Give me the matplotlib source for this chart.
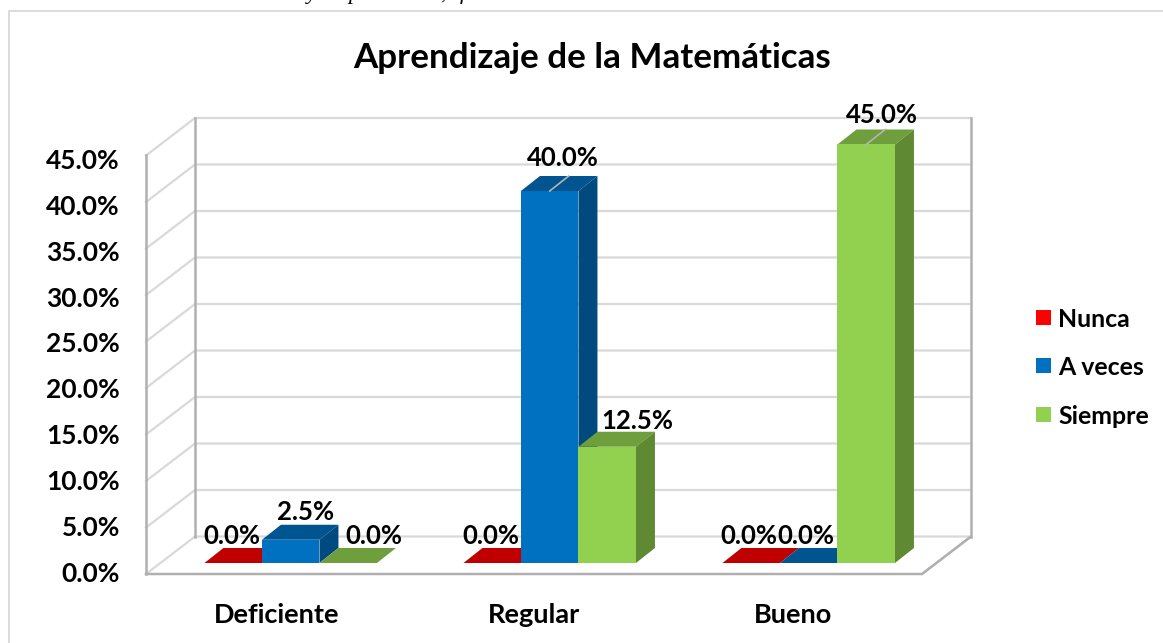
import matplotlib
matplotlib.use("Agg")
import matplotlib.pyplot as plt
from matplotlib.patches import Polygon, Rectangle

categories = ["Deficiente", "Regular", "Bueno"]
series_names = ["Nunca", "A veces", "Siempre"]
nunca = [0.0, 0.0, 0.0]
a_veces = [2.5, 40.0, 0.0]
siempre = [0.0, 12.5, 45.0]
y_ticks = [0, 5, 10, 15, 20, 25, 30, 35, 40, 45]
title = "Aprendizaje de la Matemáticas"
cut_text = ["y", "p", ",", "f"]

# label layout: horizontal shift and gap above the bar's front top edge, in pixels
label_shift = [[-1, 15, 26], [-1, 13, 30], [-2, -3, 16]]
label_gap = [[27, 28, 27], [27, 33, 26], [27, 27, 29]]
cut_text_px = [312, 354, 443, 463]
cat_label_px = [276.5, 534, 792.5]

plt.rcParams['font.family'] = ['Lato', 'DejaVu Sans']
W, H = 1163, 643
fig = plt.figure(figsize=(W/100, H/100), dpi=100, facecolor='white')
ax = fig.add_axes([0, 0, 1, 1])

# data axes: x in category units, y in percent (front plane of the bars)
CAT_PX, X0_PX = 259.0, 290.7
PCT_PX, Y0_PX = 9.3, 563.0
ax.set_xlim(-X0_PX/CAT_PX, (W-X0_PX)/CAT_PX)
ax.set_ylim((Y0_PX-H)/PCT_PX, Y0_PX/PCT_PX)
ax.axis('off')
def dx(p): return p/CAT_PX
def dy(p): return p/PCT_PX
def px(p): return dx(p-X0_PX)
def py(p): return dy(Y0_PX-p)

# chart frame (only top and left edges are inside the crop)
ax.plot([px(8.5), px(8.5), px(W)], [py(H), py(11), py(11)], color='#d9d9d9', lw=1.3, zorder=0)
for s, p in zip(cut_text, cut_text_px):
    ax.text(px(p), py(-1), s, ha='center', va='baseline', family='Liberation Serif',
            style='italic', fontsize=16, color='black')

# box geometry
left = px(146); right = px(922)
back_dx, back_dy = dx(49), dy(37.5)
base = py(574)
span = 45
grid = '#d9d9d9'; axis = '#b0b0b0'
for t in y_ticks[1:]:
    ax.plot([left, left+back_dx, right+back_dx],
            [base+t, base+t+back_dy, base+t+back_dy], color=grid, lw=1.6, zorder=1)
ax.plot([left, left+back_dx, right+back_dx, right],
        [base, base+back_dy, base+back_dy, base], color=grid, lw=1.6, zorder=1)
ax.plot([left+back_dx, left+back_dx], [base+back_dy, base+span+back_dy], color=axis, lw=1.8, zorder=1.1)
ax.plot([right+back_dx, right+back_dx], [base+back_dy, base+span+back_dy], color=axis, lw=1.8, zorder=1.1)
ax.plot([left, left], [base, base+span], color=axis, lw=1.8, zorder=1.1)
ax.plot([left, right, right+back_dx], [base, base, base+back_dy], color=axis, lw=1.8, zorder=1.1)

# bars
bw = 57.5/CAT_PX
ddx, ddy = dx(19), dy(15)
styles = [('#ff0000', '#c00000', '#a00000'),
          ('#0070c0', '#00548f', '#004a80'),
          ('#92d050', '#6f9e3c', '#5f8a33')]
series = [nunca, a_veces, siempre]
z = 2
for ci in range(len(categories)):
    for si, vals in enumerate(series):
        v = vals[ci]
        x0 = ci + (si-1.5)*bw
        front, top, side = styles[si]
        ax.add_patch(Polygon([(x0, v), (x0+bw, v), (x0+bw+ddx, v+ddy), (x0+ddx, v+ddy)],
                             fc=top, ec='none', zorder=z))
        if v > 0:
            ax.add_patch(Polygon([(x0+bw, 0), (x0+bw+ddx, ddy), (x0+bw+ddx, v+ddy), (x0+bw, v)],
                                 fc=side, ec='none', zorder=z))
            ax.bar(x0, v, width=bw, align='edge', color=front, zorder=z+0.1)
        if v >= 40:
            xc = x0+bw/2
            ax.plot([xc, xc+ddx], [v, v+ddy], color='#b5b5b5', lw=1.2, zorder=z+0.2)
        z += 1
        ax.text(x0+bw/2+dx(label_shift[ci][si]), v+dy(label_gap[ci][si]), f"{v:.1f}%",
                ha='center', va='center', fontsize=18.5, fontweight='bold', color='black', zorder=50)

# axis labels
for t in y_ticks:
    ax.text(px(120), py(574-t*9.18), f"{t:.1f}%", ha='right', va='center',
            fontsize=19, fontweight='bold', color='black')
for c, p in zip(categories, cat_label_px):
    ax.text(px(p), py(615), c, ha='center', va='center',
            fontsize=19.5, fontweight='bold', color='black')

ax.text(px(592), py(58), title, ha='center', va='center',
        fontsize=25.2, fontweight='bold', color='black')

# legend
for name, (front, _, _), yp in zip(series_names, styles, [317.5, 365.5, 414.5]):
    ax.add_patch(Rectangle((px(1036), py(yp+7.5)), dx(15), dy(15), fc=front, ec='none'))
    ax.text(px(1058), py(yp+2), name, ha='left', va='center',
            fontsize=17.9, fontweight='bold', color='black')

fig.savefig('out.png', dpi=100)
